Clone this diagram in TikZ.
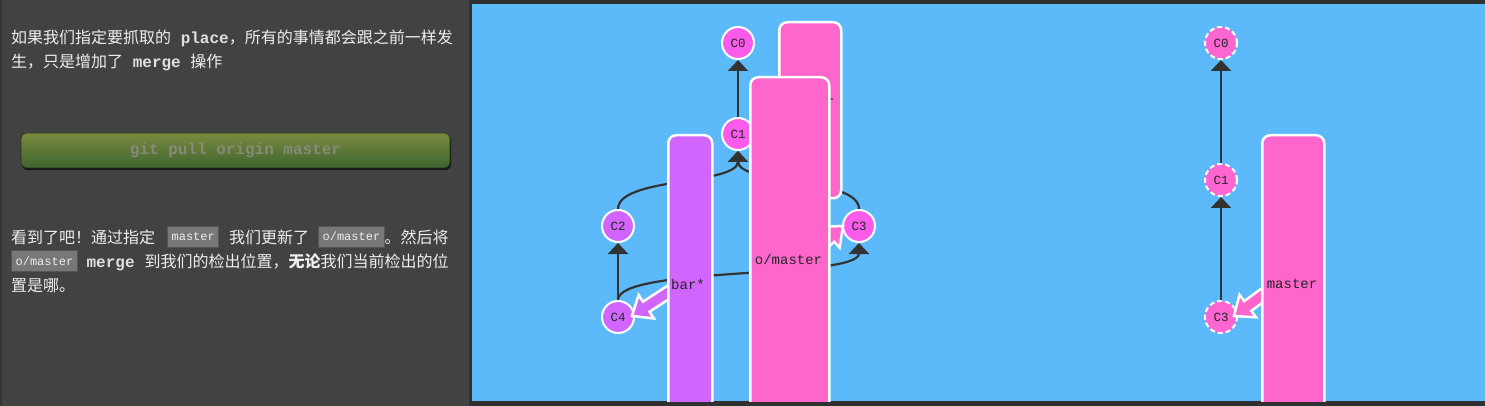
\documentclass[tikz,border=0pt]{standalone}
\usepackage{fontspec}
\setmainfont{Liberation Sans}
\newfontfamily\cjk{Noto Sans CJK SC}
\newfontfamily\mono{Liberation Mono}
\usetikzlibrary{arrows.meta,calc}

\definecolor{panel}{HTML}{424242}
\definecolor{frame}{HTML}{303030}
\definecolor{sky}{HTML}{5CBAFB}
\definecolor{pinkb}{HTML}{FF66CC}
\definecolor{purpb}{HTML}{D066FF}
\definecolor{magc}{HTML}{FA5BEA}
\definecolor{pinkc}{HTML}{FF66D2}
\definecolor{edgec}{HTML}{333333}
\definecolor{txt}{HTML}{EEEEEE}
\definecolor{cbfill}{HTML}{777777}
\definecolor{cbline}{HTML}{555555}
\definecolor{btntop}{HTML}{7B8A3E}
\definecolor{btnbot}{HTML}{3D6530}
\definecolor{btntxt}{HTML}{878A78}

\newcommand{\cbox}[1]{{\setlength{\fboxsep}{0pt}\setlength{\fboxrule}{1pt}\fcolorbox{cbline}{cbfill}{\raisebox{2pt}[16pt][4pt]{\hspace{3.4pt}\color{txt}\mono\fontsize{12}{12}\selectfont #1\hspace{3.4pt}}}}}

% #1 tail coordinate, #2 tip coordinate, #3 colour
\newcommand{\fatarrow}[3]{%
  \coordinate (fab) at ($(#2)!17pt!(#1)$);
  \filldraw[fill=#3, draw=white, line width=2.5pt, line join=miter]
    ($(#1)!6pt!90:(#2)$) -- ($(fab)!6pt!90:(#2)$) -- ($(fab)!14pt!90:(#2)$) -- (#2)
    -- ($(fab)!14pt!-90:(#2)$) -- ($(fab)!6pt!-90:(#2)$) -- ($(#1)!6pt!-90:(#2)$) -- cycle;}

\begin{document}
\begin{tikzpicture}[x=1pt,y=-1pt,
  commit/.style={circle, minimum size=32pt, inner sep=0pt, draw=white, line width=2pt,
    font=\mono\fontsize{12.5}{12.5}\selectfont, text=black!85},
  dcommit/.style={commit, dash pattern=on 5pt off 3pt},
  edgeline/.style={draw=edgec, line width=2.2pt, -{Triangle[width=20pt,length=11pt]}},
  brect/.style={draw=white, line width=2.5pt, rounded corners=8pt, anchor=north west, inner sep=0pt},
  blabel/.style={font=\mono\fontsize{14}{14}\selectfont, text=black!85, inner sep=0pt},
  para/.style={anchor=base west, inner sep=0pt, text=txt, font=\cjk\fontsize{16}{16}\selectfont},
  btn/.style={rounded corners=6pt, top color=btntop, bottom color=btnbot, draw=black!45!btnbot,
    line width=0.6pt, minimum width=429pt, minimum height=35pt, inner sep=0pt,
    font=\mono\bfseries\fontsize{16}{16}\selectfont, text=btntxt},
]
\useasboundingbox (0,0) rectangle (1485,406);
% backgrounds
\fill[panel] (0,0) rectangle (1485,406);
\fill[frame] (469,0) rectangle (1485,406);
\fill[black!20!panel] (0,0) rectangle (1.5,406);
\fill[sky] (472,4) rectangle (1485,401);

% left text
\node[para] (l1) at (11,44) {如果我们指定要抓取的\hspace{9.6pt}{\mono\bfseries\color{black!12}place}，所有的事情都会跟之前一样发};
\node[para] (l2) at (11,68) {生，只是增加了\hspace{9.6pt}{\mono\bfseries\color{black!12}merge}\hspace{9.6pt}操作};
\fill[black!70!panel, rounded corners=6pt] (21.5,135) rectangle (451,170);
\node[btn] (button) at (235.5,150.5) {git pull origin master};
\node[para] (l3) at (11,243) {看到了吧！通过指定\hspace{12pt}\cbox{master}\hspace{10pt}我们更新了\hspace{9pt}\cbox{o/master}。然后将};
\node[para] (l4) at (11,267) {\cbox{o/master}\hspace{9pt}{\mono\bfseries\color{black!12}merge}\hspace{10pt}到我们的检出位置，{\bfseries 无论}我们当前检出的位};
\node[para] (l5) at (11,291) {置是哪。};

\begin{scope}
\clip (472,4) rectangle (1485,401);
% ---------- left tree ----------
\node[commit, fill=magc] (C0) at (738,43) {C0};
\node[commit, fill=magc] (C1) at (738,134) {C1};
\node[commit, fill=purpb] (C2) at (618,226) {C2};
\node[commit, fill=magc] (C3) at (859,226) {C3};
\node[commit, fill=purpb] (C4) at (618,317) {C4};

\draw[edgeline] (C1.north) -- (C0.south);
\draw[edgeline] (C2.north) .. controls +(0,-32) and +(0,34) .. (C1.south);
\draw[edgeline] (C3.north) .. controls +(0,-32) and +(0,34) .. (C1.south);
\draw[edgeline] (C4.north) -- (C2.south);
\draw[edgeline] (C4.north) .. controls +(0,-34) and +(0,36) .. (C3.south);

\coordinate (barT) at (678,286);
\coordinate (barP) at ($(C4.east)+(-3,-1)$);
\fatarrow{barT}{barP}{purpb}
\coordinate (omT) at (815,251);
\coordinate (omP) at ($(C3.west)+(1,0)$);
\fatarrow{omT}{omP}{pinkb}

\node[brect, fill=pinkb, minimum width=62pt, minimum height=176pt] (mR) at (778,21) {};
\node[blabel] (mL) at (809,102) {master};
\node[brect, fill=purpb, minimum width=44pt, minimum height=300pt] (barR) at (667,134) {};
\node[blabel] (barL) at (688,284) {bar*};
\node[brect, fill=pinkb, minimum width=79pt, minimum height=360pt] (omR) at (749,76) {};
\node[blabel] (omL) at (788.5,259) {o/master};

% ---------- right tree ----------
\node[dcommit, fill=pinkc] (D0) at (1221,43) {C0};
\node[dcommit, fill=pinkc] (D1) at (1221,180) {C1};
\node[dcommit, fill=pinkc] (D3) at (1221,317) {C3};
\draw[edgeline] (D1.north) -- (D0.south);
\draw[edgeline] (D3.north) -- (D1.south);
\coordinate (mT) at (1271,289);
\coordinate (mP) at ($(D3.east)+(-4,-1)$);
\fatarrow{mT}{mP}{pinkb}
\node[brect, fill=pinkb, minimum width=62pt, minimum height=300pt] (mRR) at (1261,134) {};
\node[blabel] (mLL) at (1292,284) {master};
\end{scope}
\end{tikzpicture}
\end{document}
